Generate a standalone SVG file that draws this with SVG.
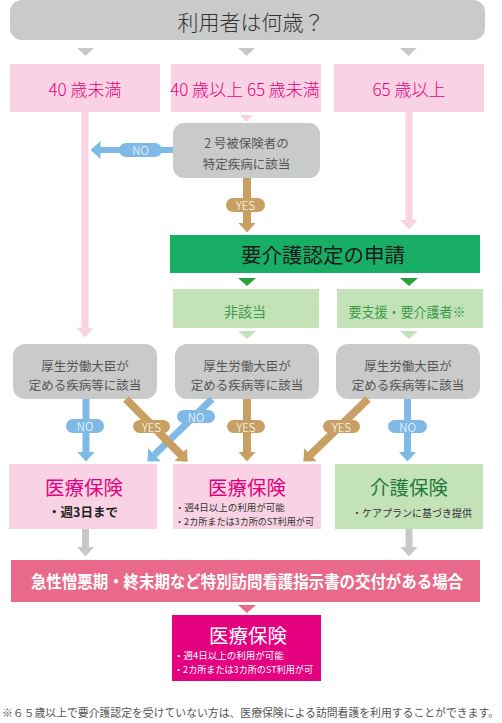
<svg xmlns="http://www.w3.org/2000/svg" width="502" height="723" viewBox="0 0 502 723">
<defs>
<style>
text{font-family:"Noto Sans CJK JP","Noto Sans",sans-serif;text-anchor:middle;dominant-baseline:central}
.gray{fill:#c9caca}
.pinkbox{fill:#f9d3e3}
.pinktxt{fill:#e4007f;font-size:17px;font-weight:300}
.lg{fill:#c3e2b8}
.q{fill:#555;font-size:12.5px}
.lbl{fill:#fff;font-size:11.5px;font-weight:300}
.pb{fill:#7fb9e6}
.pt{fill:#c9a063}
.lb{stroke:#7fb9e6;stroke-width:7;fill:none}
.lt{stroke:#c9a063;stroke-width:8;fill:none}
.lgr{stroke:#c8c8c8;stroke-width:7;fill:none}
.lp{stroke:#f9d3e3;stroke-width:7;fill:none}
.big{font-size:19.5px}
.small{font-size:9.5px;fill:#333;text-anchor:start}
</style>
<marker id="hb" markerUnits="userSpaceOnUse" viewBox="0 0 10 18" markerWidth="10" markerHeight="18" refX="0.5" refY="9" orient="auto"><path d="M0,0 L10,9 L0,18 z" fill="#7fb9e6"/></marker>
<marker id="ht" markerUnits="userSpaceOnUse" viewBox="0 0 10 18" markerWidth="10" markerHeight="18" refX="0.5" refY="9" orient="auto"><path d="M0,0 L10,9 L0,18 z" fill="#c9a063"/></marker>
<marker id="hg" markerUnits="userSpaceOnUse" viewBox="0 0 10 18" markerWidth="10" markerHeight="18" refX="0.5" refY="9" orient="auto"><path d="M0,0 L10,9 L0,18 z" fill="#c8c8c8"/></marker>
<marker id="hp" markerUnits="userSpaceOnUse" viewBox="0 0 10 18" markerWidth="10" markerHeight="18" refX="0.5" refY="9" orient="auto"><path d="M0,0 L10,9 L0,18 z" fill="#f9d3e3"/></marker>
</defs>
<rect width="502" height="723" fill="#fff"/>

<g id="q-age">
<rect class="gray" x="10" y="0" width="475" height="40" rx="12"/>
<text x="251" y="21" style="font-size:21px;fill:#333;font-weight:300">利用者は何歳？</text>
</g>
<g id="age-under40">
<rect class="pinkbox" x="10" y="64" width="150" height="48"/>
<text class="pinktxt" x="85" y="88">40 歳未満</text>
</g>
<g id="age-40-65">
<rect class="pinkbox" x="171" y="64" width="150" height="48"/>
<text class="pinktxt" x="245" y="88">40 歳以上 65 歳未満</text>
</g>
<g id="age-over65">
<rect class="pinkbox" x="334" y="64" width="150" height="48"/>
<text class="pinktxt" x="409" y="88">65 歳以上</text>
</g>
<g id="q-specific">
<rect class="gray" x="173" y="123" width="147" height="55" rx="11"/>
<text class="q" x="246.5" y="142">2 号被保険者の</text>
<text class="q" x="246.5" y="163">特定疾病に該当</text>
</g>
<g id="apply">
<rect x="170" y="235" width="310" height="38" fill="#18ae66"/>
<text x="323" y="254" style="font-size:20.5px;fill:#1a1a1a">要介護認定の申請</text>
</g>
<g id="not-applicable">
<rect class="lg" x="173" y="289" width="146" height="39"/>
<text x="245" y="310.5" style="font-size:14px;fill:#3b9b47">非該当</text>
</g>
<g id="support-care">
<rect class="lg" x="337" y="289" width="146" height="39"/>
<text x="407" y="310.5" textLength="117" lengthAdjust="spacingAndGlyphs" style="font-size:14px;fill:#3b9b47">要支援・要介護者※</text>
</g>
<g id="q-disease1">
<rect class="gray" x="13" y="344" width="144" height="55" rx="12"/>
<text class="q" x="85" y="365">厚生労働大臣が</text>
<text class="q" x="85" y="384.5">定める疾病等に該当</text>
</g>
<g id="q-disease2">
<rect class="gray" x="175" y="344" width="144" height="55" rx="12"/>
<text class="q" x="247" y="365">厚生労働大臣が</text>
<text class="q" x="247" y="384.5">定める疾病等に該当</text>
</g>
<g id="q-disease3">
<rect class="gray" x="336" y="344" width="144" height="55" rx="12"/>
<text class="q" x="408" y="365">厚生労働大臣が</text>
<text class="q" x="408" y="384.5">定める疾病等に該当</text>
</g>
<g id="medical1">
<rect class="pinkbox" x="9" y="464" width="148" height="65"/>
<text class="big" x="84" y="486" fill="#e4007f">医療保険</text>
<text x="83" y="511" style="font-size:12.5px;font-weight:bold;fill:#222">・週3日まで</text>
</g>
<g id="medical2">
<rect class="pinkbox" x="173" y="464" width="148" height="65"/>
<text class="big" x="247" y="486" fill="#e4007f">医療保険</text>
<text class="small" x="175" y="507">・週4日以上の利用が可能</text>
<text class="small" x="175" y="520.5" textLength="139" lengthAdjust="spacingAndGlyphs">・2カ所または3カ所のST利用が可</text>
</g>
<g id="care-ins">
<rect class="lg" x="335" y="464" width="148" height="65"/>
<text class="big" x="409" y="486" fill="#1e7a3c">介護保険</text>
<text x="412" y="512" style="font-size:10px;fill:#333">・ケアプランに基づき提供</text>
</g>
<g id="special">
<rect x="11" y="560" width="469" height="42" fill="#e9698b"/>
<text x="247" y="580.5" textLength="432" lengthAdjust="spacingAndGlyphs" style="font-size:16.5px;font-weight:bold;fill:#fff">急性憎悪期・終末期など特別訪問看護指示書の交付がある場合</text>
</g>
<g id="medical3">
<rect x="172" y="615" width="149" height="66" fill="#e4007f"/>
<text class="big" x="248" y="634" fill="#fff">医療保険</text>
<text class="small" x="174" y="655" style="fill:#fff">・週4日以上の利用が可能</text>
<text class="small" x="174" y="668.5" textLength="139" lengthAdjust="spacingAndGlyphs" style="fill:#fff">・2カ所または3カ所のST利用が可</text>
</g>
<g id="note">
<text x="2" y="712" textLength="497" lengthAdjust="spacingAndGlyphs" style="text-anchor:start;font-size:10.8px;fill:#555">※６５歳以上で要介護認定を受けていない方は、医療保険による訪問看護を利用することができます。</text>
</g>

<g id="connectors">
<polygon points="77,48 94,48 85.5,56" fill="#c8c8c8"/>
<polygon points="238,48 255,48 246.5,56" fill="#c8c8c8"/>
<polygon points="400,48 417,48 408.5,56" fill="#c8c8c8"/>
<polygon points="240,115 253,115 246.5,122" fill="#f9d3e3"/>
<line class="lp" x1="85" y1="112" x2="85" y2="328" marker-end="url(#hp)"/>
<line class="lp" x1="409" y1="112" x2="409" y2="220" marker-end="url(#hp)"/>
<line class="lb" x1="173" y1="150" x2="100" y2="150" style="stroke-width:6" marker-end="url(#hb)"/>
<rect class="pb" x="119" y="143" width="43" height="14" rx="7"/>
<text class="lbl" x="140.5" y="150">NO</text>
<line class="lt" x1="247" y1="178" x2="247" y2="223" marker-end="url(#ht)"/>
<rect class="pt" x="226" y="198" width="39" height="14" rx="7"/>
<text class="lbl" x="245.5" y="205">YES</text>
<polygon points="238,278 256,278 247,286" fill="#28a23c"/>
<polygon points="400,278 418,278 409,286" fill="#28a23c"/>
<polygon points="238,331 256,331 247,339" fill="#c3e2b8"/>
<polygon points="400,331 418,331 409,339" fill="#c3e2b8"/>
<line class="lb" x1="86" y1="399" x2="86" y2="452" marker-end="url(#hb)"/>
<line class="lb" x1="212" y1="399" x2="154.2" y2="455" marker-end="url(#hb)"/>
<line class="lb" x1="407.5" y1="399" x2="407.5" y2="452" marker-end="url(#hb)"/>
<line class="lt" x1="126" y1="399" x2="181" y2="454.9" marker-end="url(#ht)"/>
<line class="lt" x1="247" y1="399" x2="247" y2="452" marker-end="url(#ht)"/>
<line class="lt" x1="368" y1="399" x2="310.2" y2="455" marker-end="url(#ht)"/>
<rect class="pb" x="66" y="419" width="38" height="14" rx="7"/>
<text class="lbl" x="85" y="426">NO</text>
<rect class="pt" x="133" y="420" width="37" height="13" rx="6.5"/>
<text class="lbl" x="151.5" y="426.5">YES</text>
<rect class="pb" x="177" y="410" width="38" height="13" rx="6.5"/>
<text class="lbl" x="196" y="416.5">NO</text>
<rect class="pt" x="227" y="420" width="38" height="13" rx="6.5"/>
<text class="lbl" x="246" y="426.5">YES</text>
<rect class="pt" x="323" y="420" width="37" height="13" rx="6.5"/>
<text class="lbl" x="341.5" y="426.5">YES</text>
<rect class="pb" x="388" y="420" width="39" height="13" rx="6.5"/>
<text class="lbl" x="407.5" y="426.5">NO</text>
<line class="lgr" x1="85.5" y1="529" x2="85.5" y2="547" marker-end="url(#hg)"/>
<line class="lgr" x1="409" y1="529" x2="409" y2="547" marker-end="url(#hg)"/>
<polygon points="238,605 256,605 247,613" fill="#e9698b"/>
</g>
</svg>
